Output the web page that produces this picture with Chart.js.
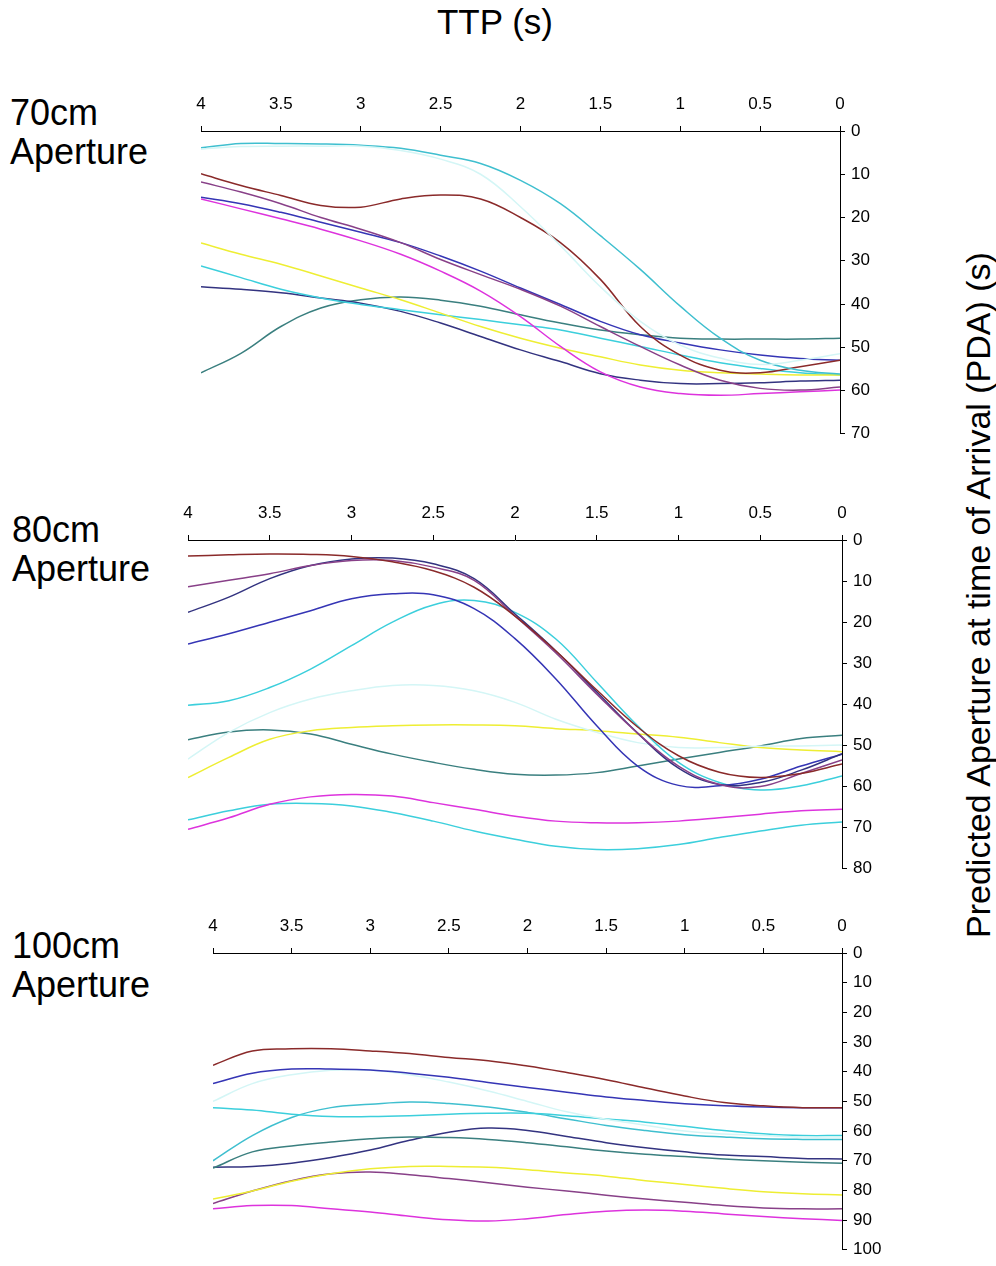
<!DOCTYPE html>
<html>
<head>
<meta charset="utf-8">
<script src="https://cdn.jsdelivr.net/npm/chart.js@4.4.1/dist/chart.umd.min.js"></script>
<style>
  html, body { margin: 0; padding: 0; background: #fff; width: 996px; height: 1266px; overflow: hidden; }
  body { position: relative; font-family: "Liberation Sans", Arial, sans-serif; color: #000; }
  .box { position: absolute; }
  .lbl { position: absolute; font-size: 36px; line-height: 39px; }
  #ytitle { position: absolute; left: 978px; top: 595px; font-size: 34px; white-space: nowrap;
            transform: translate(-50%, -50%) rotate(-90deg); }
  #xtitle { position: absolute; left: 495px; top: 22px; font-size: 35px; transform: translate(-50%, -50%); white-space: nowrap; }
</style>
</head>
<body>
<div id="xtitle">TTP (s)</div>
<div id="ytitle">Predicted Aperture at time of Arrival (PDA) (s)</div>
<div class="lbl" style="left:10px;top:93px">70cm<br>Aperture</div>
<div class="lbl" style="left:12px;top:510px">80cm<br>Aperture</div>
<div class="lbl" style="left:12px;top:926px">100cm<br>Aperture</div>

<div class="box" style="left:180px;top:70px;width:720px;height:380px"><canvas id="c1"></canvas></div>
<div class="box" style="left:168px;top:478px;width:734px;height:407px"><canvas id="c2"></canvas></div>
<div class="box" style="left:190px;top:891px;width:712px;height:375px"><canvas id="c3"></canvas></div>

<script>
// Time to passage (s), shared x samples
const TTP = [4, 3.75, 3.5, 3.25, 3, 2.75, 2.5, 2.25, 2, 1.75, 1.5, 1.25, 1, 0.75, 0.5, 0.25, 0];
const X_TICKS = [4, 3.5, 3, 2.5, 2, 1.5, 1, 0.5, 0];

// ---- 70cm aperture ----
const a70_paleCyan = [4.2, 3.6, 3.5, 3.5, 3.5, 4.5, 6.5, 10, 17.5, 26.5, 36, 44, 49.5, 52.5, 54, 53, 51.5];
const a70_cyanTop  = [3.9, 2.9, 2.9, 3.0, 3.3, 4.0, 5.6, 7.5, 11.4, 16.8, 24.2, 32, 40.5, 47.9, 53, 55.3, 56.2];
const a70_maroon   = [9.9, 12.6, 14.9, 17.2, 17.6, 15.7, 14.8, 15.7, 20, 25.8, 34.3, 45.2, 51.8, 55.3, 55.9, 54.5, 53];
const a70_purple   = [11.8, 14.1, 16.8, 20, 22.7, 25.8, 29.7, 33.2, 36.6, 40.5, 45.2, 49.8, 54.1, 57.6, 59.5, 59.9, 59.2];
const a70_blue     = [15.3, 16.8, 18.8, 21.1, 23.4, 25.8, 28.9, 32.4, 36.3, 40.1, 44, 47.1, 49, 50.6, 51.8, 52.6, 53];
const a70_magenta  = [15.7, 18, 20.3, 22.7, 25.4, 28.5, 32.4, 37, 42.9, 49.8, 55.7, 59.2, 60.7, 61.1, 60.7, 60.3, 59.9];
const a70_yellow   = [25.9, 28.5, 30.8, 33.5, 36.3, 39, 42.1, 45.2, 47.9, 50.2, 52.2, 54.1, 55.3, 55.9, 56.2, 56.4, 56.4];
const a70_cyan     = [31.2, 33.9, 36.6, 38.6, 40.1, 41.3, 42.5, 43.6, 44.8, 46, 47.9, 49.8, 51.8, 53.6, 54.9, 55.9, 56.4];
const a70_navy     = [36, 36.6, 37.4, 38.6, 39.8, 41.7, 44.4, 47.5, 50.6, 53.3, 56.1, 57.6, 58.4, 58.4, 58.2, 57.8, 57.6];
const a70_teal     = [55.9, 51.4, 45.2, 40.9, 39, 38.4, 39.1, 40.5, 42.5, 44.4, 46, 47.1, 47.9, 48.1, 48.1, 48.1, 47.9];

// ---- 80cm aperture ----
const a80_maroon   = [3.9, 3.6, 3.4, 3.5, 4, 5.3, 7.5, 11.5, 18.5, 27, 36.5, 45.5, 52.5, 56.5, 57.8, 56.8, 54.5];
const a80_purple   = [11.4, 9.8, 8.2, 6.2, 5, 5, 6.6, 9.8, 18.5, 27.5, 37.5, 47, 55, 59.5, 60, 56.8, 53.5];
const a80_navy     = [17.6, 13.9, 9.4, 6.2, 4.6, 4.4, 5.8, 9.4, 18, 27, 37, 47, 55.5, 59.5, 59, 56, 52];
const a80_blue     = [25.3, 22.8, 20, 17.2, 14.3, 13.1, 13.3, 16.7, 24, 33.8, 45.2, 55, 59.7, 59.8, 58.2, 55, 52.1];
const a80_cyan     = [40.2, 39.1, 35.9, 31.4, 25.7, 20, 15.8, 14.7, 17.6, 24.1, 34.6, 45.2, 54.1, 59, 60.8, 59.8, 57.4];
const a80_paleCyan = [53.3, 46.8, 42, 38.7, 36.7, 35.4, 35.4, 36.7, 39.5, 43.6, 46.8, 49.3, 50.5, 50.5, 50.2, 50.1, 49.9];
const a80_yellow   = [57.8, 52.9, 48.5, 46.4, 45.6, 45.2, 45, 45, 45.2, 45.9, 46.4, 47.2, 48, 49.3, 50.5, 51.1, 51.5];
const a80_teal     = [48.6, 46.7, 46.2, 47.2, 49.7, 52.1, 54.1, 55.8, 57, 57.2, 56.6, 55, 53.3, 51.7, 50.1, 48.3, 47.5];
const a80_magenta  = [70.4, 67.6, 64.3, 62.5, 61.9, 62.3, 63.9, 65.5, 67.2, 68.4, 68.8, 68.8, 68.4, 67.6, 66.7, 65.9, 65.5];
const a80_cyan2    = [68.1, 65.9, 64.3, 64.1, 64.7, 66.3, 68.4, 70.8, 72.8, 74.5, 75.3, 75.1, 74.1, 72.4, 70.8, 69.4, 68.6];

// ---- 100cm aperture ----
const a100_maroon   = [37.8, 33, 32.3, 32.3, 33, 33.9, 35.2, 36.3, 38.1, 40.3, 42.7, 45.5, 48.2, 50.4, 51.5, 52.1, 52.1];
const a100_blue     = [44, 40.5, 39.1, 39.1, 39.4, 40.5, 41.9, 43.6, 45.3, 46.9, 48.5, 49.7, 50.8, 51.5, 51.9, 52.1, 52.1];
const a100_paleCyan = [50, 44, 41, 39.5, 39.5, 41, 43.5, 46.5, 50, 53.5, 56, 58, 60, 61, 61.5, 62, 62];
const a100_cyanA    = [52.1, 52.9, 54.3, 55.1, 55.1, 54.8, 54.3, 54, 54, 54.8, 55.9, 57, 58.4, 59.8, 60.9, 61.5, 61.5];
const a100_cyanB    = [70, 61.5, 55.4, 52.1, 51, 50.2, 50.7, 51.9, 53.7, 55.9, 58.1, 59.8, 61.2, 62, 62.6, 62.8, 62.8];
const a100_teal     = [72.5, 67, 65, 63.7, 62.6, 62, 62.2, 62.8, 63.9, 65.3, 66.7, 67.8, 68.6, 69.4, 70, 70.5, 70.8];
const a100_navy     = [72.2, 71.9, 70.8, 68.9, 66.4, 63.1, 60.4, 59, 59.8, 61.8, 63.9, 65.6, 67, 68.1, 68.6, 69.2, 69.4];
const a100_yellow   = [82.9, 80.2, 76.9, 74.4, 72.7, 71.9, 71.9, 72.2, 73, 74.1, 75.2, 76.7, 78, 79.3, 80.4, 81.1, 81.5];
const a100_purple   = [84.4, 80.2, 76.7, 74.4, 73.8, 74.7, 76, 77.4, 78.9, 80.2, 81.6, 82.9, 84, 85.1, 85.9, 86.2, 86.2];
const a100_magenta  = [86.2, 85.1, 85.1, 86.2, 87.3, 88.7, 89.9, 90.3, 89.5, 88.1, 87, 86.6, 87, 87.9, 88.8, 89.5, 90.1];

const COL = {
  paleCyan: '#d4f6f6', cyanTop: '#3fbfcf', maroon: '#8a2a2a', purple: '#884088', blue: '#3535b5',
  magenta: '#dd33dd', yellow: '#eeee33', cyan: '#3ccfdc', navy: '#333380', teal: '#3a7f7f'
};

function ds(values, color) {
  return {
    data: TTP.map((t, i) => ({ x: t, y: values[i] })),
    borderColor: color, borderWidth: 1.5, pointRadius: 0, fill: false, tension: 0.4
  };
}

function makeChart(id, datasets, yMax, xAxisH, padLeft, padBottom) {
  new Chart(document.getElementById(id), {
    type: 'line',
    data: { datasets },
    options: {
      responsive: true, maintainAspectRatio: false, animation: false,
      plugins: { legend: { display: false }, tooltip: { enabled: false } },
      layout: { padding: { left: padLeft, right: 0, top: 0, bottom: padBottom } },
      scales: {
        x: {
          type: 'linear', position: 'top', reverse: true, min: 0, max: 4,
          afterBuildTicks: s => { s.ticks = X_TICKS.map(v => ({ value: v })); },
          afterFit: s => { s.height = xAxisH; },
          grid: { drawOnChartArea: false, drawTicks: true, tickLength: 5, color: '#000', lineWidth: 1 },
          border: { display: true, color: '#000', width: 1 },
          ticks: { color: '#000', padding: 11, maxRotation: 0, callback: v => String(v),
                   font: { family: 'Liberation Sans', size: 17 } }
        },
        y: {
          type: 'linear', position: 'right', reverse: true, min: 0, max: yMax,
          ticks: { stepSize: 10, color: '#000', padding: 6, callback: v => String(v),
                   font: { family: 'Liberation Sans', size: 17 } },
          afterFit: s => { s.width = 60; },
          grid: { drawOnChartArea: false, drawTicks: true, tickLength: 5, color: '#000', lineWidth: 1 },
          border: { display: true, color: '#000', width: 1 }
        }
      }
    }
  });
}

makeChart('c1', [
  ds(a70_paleCyan, COL.paleCyan), ds(a70_cyanTop, COL.cyanTop), ds(a70_maroon, COL.maroon),
  ds(a70_purple, COL.purple), ds(a70_blue, COL.blue), ds(a70_magenta, COL.magenta),
  ds(a70_yellow, COL.yellow), ds(a70_cyan, COL.cyan), ds(a70_navy, COL.navy), ds(a70_teal, COL.teal)
], 70, 61, 21, 16);

makeChart('c2', [
  ds(a80_maroon, COL.maroon), ds(a80_purple, COL.purple), ds(a80_navy, COL.navy),
  ds(a80_blue, COL.blue), ds(a80_cyan, COL.cyan), ds(a80_paleCyan, COL.paleCyan),
  ds(a80_yellow, COL.yellow), ds(a80_teal, COL.teal), ds(a80_magenta, COL.magenta), ds(a80_cyan2, COL.cyan)
], 80, 62, 20, 16);

makeChart('c3', [
  ds(a100_maroon, COL.maroon), ds(a100_blue, COL.blue), ds(a100_paleCyan, COL.paleCyan),
  ds(a100_cyanA, COL.cyan), ds(a100_cyanB, COL.cyanTop), ds(a100_teal, COL.teal),
  ds(a100_navy, COL.navy), ds(a100_yellow, COL.yellow), ds(a100_purple, COL.purple), ds(a100_magenta, COL.magenta)
], 100, 62, 23, 10);
</script>
</body>
</html>
